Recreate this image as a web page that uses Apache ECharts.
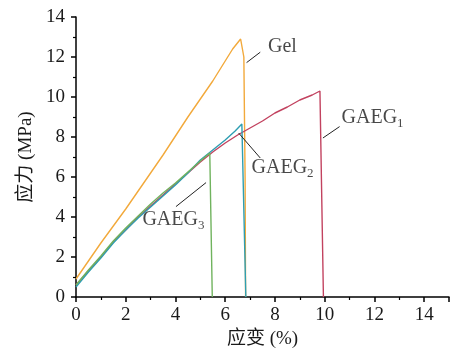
<!DOCTYPE html>
<html><head><meta charset="utf-8">
<script src="https://cdn.jsdelivr.net/npm/echarts@6/dist/echarts.min.js"></script>
<style>html,body{margin:0;padding:0;background:#fff}#c{width:452px;height:354px}</style>
</head><body><div id="c"></div>
<script>
// strain (%) , stress (MPa)
const gelX = [0, 0.5, 1, 1.5, 2, 2.5, 3, 3.5, 4, 4.5, 5, 5.5, 6, 6.3, 6.62, 6.7, 6.75, 6.8, 6.82];
const gelY = [0.9, 1.8, 2.7, 3.55, 4.4, 5.3, 6.2, 7.1, 8.05, 9.0, 9.9, 10.8, 11.8, 12.4, 12.9, 12.9, 12.0, 6.0, 0];
const g1X = [0, 0.5, 1, 1.5, 2, 2.5, 3, 3.5, 4, 4.5, 5, 5.5, 6, 6.5, 7, 7.5, 8, 8.5, 9, 9.5, 9.81, 9.85, 9.95];
const g1Y = [0.6, 1.3, 2.0, 2.75, 3.35, 4.0, 4.55, 5.1, 5.65, 6.2, 6.75, 7.25, 7.7, 8.1, 8.45, 8.8, 9.2, 9.5, 9.85, 10.1, 10.3, 10.25, 0];
const g2X = [0, 0.5, 1, 1.5, 2, 2.5, 3, 3.5, 4, 4.5, 5, 5.5, 6, 6.4, 6.67, 6.72, 6.83];
const g2Y = [0.5, 1.25, 1.95, 2.7, 3.35, 3.95, 4.5, 5.05, 5.6, 6.2, 6.85, 7.35, 7.85, 8.3, 8.65, 8.6, 0];
const g3X = [0, 0.5, 1, 1.5, 2, 2.5, 3, 3.5, 4, 4.5, 5, 5.38, 5.41, 5.48];
const g3Y = [0.6, 1.35, 2.05, 2.8, 3.45, 4.05, 4.65, 5.2, 5.7, 6.25, 6.8, 7.2, 7.15, 0];
const xTicks = [0, 2, 4, 6, 8, 10, 12, 14];
const yTicks = [0, 2, 4, 6, 8, 10, 12, 14];
// annotation leader lines [x1,y1,x2,y2] and label anchors [x,y]
const annNames = ['Gel', 'GAEG1', 'GAEG2', 'GAEG3'];
const annLines = [[6.86, 11.72, 7.41, 12.24], [9.93, 7.95, 10.6, 8.52], [6.54, 8.2, 7.41, 6.95], [4.02, 4.52, 5.23, 5.72]];
const annText = [[7.72, 12.5], [10.68, 8.95], [7.06, 6.45], [2.67, 3.85]];

const colors = ['#F2A93B', '#C2425F', '#2E9EB2', '#70B35E'];
const FONT = "'Liberation Serif', 'Noto Sans CJK SC', serif";
function zip(a, b) { return a.map((v, i) => [v, b[i]]); }
const curves = [zip(gelX, gelY), zip(g1X, g1Y), zip(g2X, g2Y), zip(g3X, g3Y)];

const series = [];
curves.forEach((d, i) => series.push({
  type: 'line', data: d, showSymbol: false, smooth: false,
  lineStyle: { color: colors[i], width: 1.4 }, z: 3 - (i === 3 ? -1 : 0)
}));
annLines.forEach(l => series.push({
  type: 'line', data: [[l[0], l[1]], [l[2], l[3]]], showSymbol: false,
  lineStyle: { color: '#222', width: 1 }, z: 5, silent: true
}));
series.push({
  type: 'scatter', symbolSize: 0, z: 6,
  data: annText.map((p, i) => ({ value: p, name: annNames[i] })),
  label: {
    show: true, position: 'right', distance: 0,
    formatter: p => {
      const n = p.name;
      const m = n.match(/^(GAEG)(\d)$/);
      return m ? '{t|' + m[1] + '}{s|' + m[2] + '}' : '{t|' + n + '}';
    },
    rich: {
      t: { fontFamily: FONT, fontSize: 20, color: '#1a1a1a' },
      s: { fontFamily: FONT, fontSize: 13, color: '#1a1a1a', padding: [12, 0, 0, 0] }
    }
  }
});

const chart = echarts.init(document.getElementById('c'), null, { renderer: 'canvas' });
chart.setOption({
  animation: false,
  backgroundColor: '#fff',
  grid: { left: 76, top: 17, right: 0, bottom: 57, containLabel: false },
  xAxis: {
    type: 'value', min: 0, max: 15, interval: 2,
    name: '应变 (%)', nameLocation: 'middle', nameGap: 33,
    nameTextStyle: { fontFamily: FONT, fontSize: 19, color: '#1a1a1a' },
    axisLine: { lineStyle: { color: '#000', width: 1.5 } },
    axisTick: { length: 5, lineStyle: { color: '#000', width: 1.5 } },
    minorTick: { show: true, splitNumber: 2, length: 3, lineStyle: { color: '#000', width: 1.2 } },
    axisLabel: { fontFamily: FONT, fontSize: 19, color: '#1a1a1a', margin: 9,
      formatter: v => xTicks.includes(v) ? String(v) : '' },
    splitLine: { show: false }
  },
  yAxis: {
    type: 'value', min: 0, max: 14, interval: 2,
    name: '应力 (MPa)', nameLocation: 'middle', nameGap: 38,
    nameTextStyle: { fontFamily: FONT, fontSize: 19, color: '#1a1a1a' },
    axisLine: { lineStyle: { color: '#000', width: 1.5 } },
    axisTick: { length: 5, lineStyle: { color: '#000', width: 1.5 } },
    minorTick: { show: true, splitNumber: 2, length: 3, lineStyle: { color: '#000', width: 1.2 } },
    axisLabel: { fontFamily: FONT, fontSize: 19, color: '#1a1a1a', margin: 11,
      formatter: v => yTicks.includes(v) ? String(v) : '' },
    splitLine: { show: false }
  },
  series: series
});
</script></body></html>
